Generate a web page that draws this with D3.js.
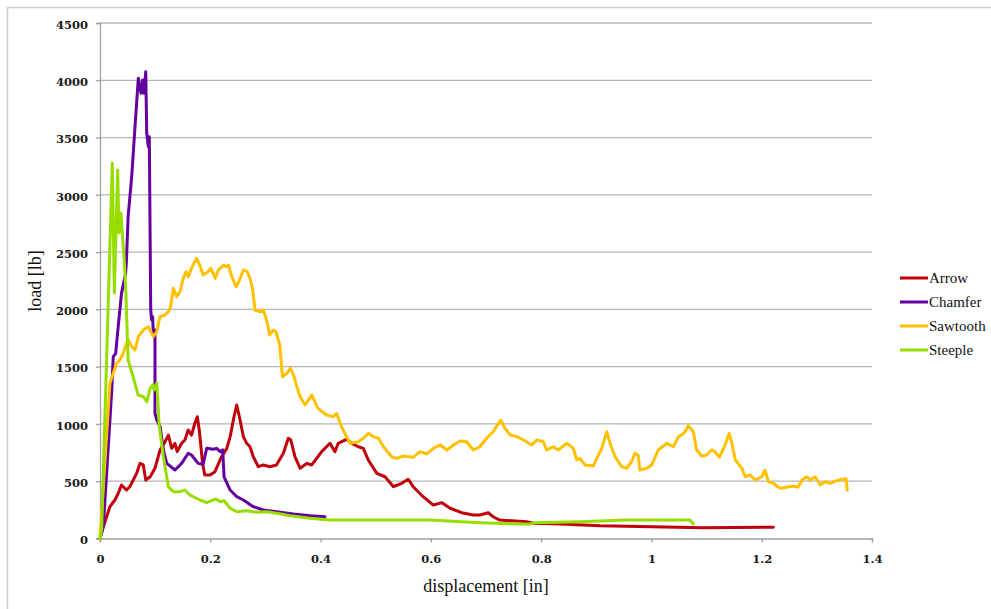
<!DOCTYPE html>
<html>
<head>
<meta charset="utf-8">
<script src="https://cdn.jsdelivr.net/npm/d3@7"></script>
<style>
  body { margin: 0; background: #fff; }
  svg { display: block; }
</style>
</head>
<body>
<script>
// load–displacement curves
const seriesNames = ["Arrow", "Chamfer", "Sawtooth", "Steeple"];
const seriesColors = ["#c0000b", "#6400a0", "#ffc000", "#97de00"];

const arrow = [[0,0],[0.006,103],[0.012,190],[0.018,278],[0.027,336],[0.033,394],[0.039,467],[0.048,423],[0.054,452],[0.0665,569],[0.0725,656],[0.0785,642],[0.083,511],[0.091,539],[0.0997,613],[0.109,773],[0.118,845],[0.124,903],[0.130,787],[0.136,831],[0.140,758],[0.148,831],[0.154,860],[0.160,947],[0.166,903],[0.172,1006],[0.1765,1063],[0.180,947],[0.186,656],[0.190,554],[0.1995,554],[0.2085,583],[0.2205,714],[0.230,787],[0.236,889],[0.243,1063],[0.248,1165],[0.254,1034],[0.260,889],[0.266,831],[0.272,801],[0.278,714],[0.287,627],[0.296,642],[0.308,627],[0.320,642],[0.3325,744],[0.3415,875],[0.346,860],[0.3535,714],[0.363,613],[0.375,656],[0.384,642],[0.402,758],[0.417,831],[0.426,758],[0.432,831],[0.447,866],[0.4565,831],[0.4685,801],[0.4775,787],[0.4865,685],[0.502,569],[0.517,539],[0.532,452],[0.547,482],[0.559,517],[0.568,452],[0.586,365],[0.6045,292],[0.620,313],[0.635,264],[0.656,225],[0.677,205],[0.689,205],[0.704,225],[0.713,190],[0.725,161],[0.774,147],[0.786,133],[0.834,127],[0.907,112],[1.094,94],[1.221,98]];

const chamfer = [[0,0],[0.006,103],[0.021,1267],[0.024,1587],[0.0285,1617],[0.033,1849],[0.039,2140],[0.0465,2315],[0.048,2431],[0.051,2809],[0.0575,3158],[0.0635,3595],[0.0695,4017],[0.0744,3886],[0.0774,4002],[0.0798,3886],[0.083,4075],[0.0847,3537],[0.0876,3420],[0.0894,3507],[0.092,1994],[0.0937,1907],[0.0955,1936],[0.0965,1794],[0.0997,1820],[0.0997,1093],[0.103,1034],[0.109,976],[0.115,773],[0.121,656],[0.136,598],[0.148,656],[0.160,744],[0.166,729],[0.178,656],[0.187,648],[0.1935,787],[0.2055,779],[0.2115,787],[0.218,758],[0.2225,773],[0.225,539],[0.236,423],[0.248,365],[0.260,336],[0.278,278],[0.296,249],[0.320,234],[0.351,214],[0.381,199],[0.408,190]];

const sawtooth = [[0,0],[0.018,1355],[0.024,1442],[0.030,1529],[0.036,1558],[0.042,1617],[0.048,1704],[0.051,1733],[0.0575,1674],[0.0635,1645],[0.0695,1762],[0.0785,1820],[0.0876,1849],[0.0967,1762],[0.1028,1805],[0.1088,1936],[0.118,1951],[0.124,1980],[0.128,2023],[0.133,2184],[0.139,2111],[0.145,2154],[0.151,2271],[0.156,2329],[0.160,2285],[0.166,2359],[0.175,2446],[0.181,2387],[0.187,2300],[0.196,2329],[0.201,2359],[0.209,2271],[0.2145,2344],[0.224,2387],[0.2285,2373],[0.233,2387],[0.239,2285],[0.247,2198],[0.253,2256],[0.260,2344],[0.267,2329],[0.272,2271],[0.277,2169],[0.281,1995],[0.290,1980],[0.296,1995],[0.302,1907],[0.308,1776],[0.314,1820],[0.319,1805],[0.326,1689],[0.331,1412],[0.339,1442],[0.345,1486],[0.351,1427],[0.357,1325],[0.363,1238],[0.372,1165],[0.384,1253],[0.395,1136],[0.411,1078],[0.423,1063],[0.429,1093],[0.438,976],[0.447,889],[0.4534,831],[0.468,845],[0.4775,875],[0.487,918],[0.496,889],[0.505,875],[0.514,801],[0.529,714],[0.538,700],[0.550,720],[0.568,709],[0.580,758],[0.5925,738],[0.6045,787],[0.617,816],[0.629,773],[0.641,816],[0.653,851],[0.665,845],[0.677,773],[0.689,801],[0.701,875],[0.713,932],[0.719,976],[0.727,1034],[0.7345,962],[0.744,903],[0.756,889],[0.768,860],[0.783,816],[0.792,860],[0.804,845],[0.810,773],[0.822,801],[0.831,773],[0.8464,831],[0.8584,787],[0.8645,685],[0.8705,700],[0.8796,642],[0.8946,633],[0.9037,729],[0.910,787],[0.919,932],[0.925,831],[0.934,714],[0.946,627],[0.955,613],[0.964,670],[0.970,744],[0.976,729],[0.979,598],[0.9915,613],[1.0005,642],[1.0125,773],[1.028,831],[1.040,801],[1.049,889],[1.059,918],[1.067,985],[1.076,932],[1.082,773],[1.091,720],[1.100,729],[1.109,773],[1.115,758],[1.123,709],[1.1335,816],[1.141,918],[1.146,831],[1.152,685],[1.164,613],[1.170,539],[1.179,554],[1.188,511],[1.200,539],[1.206,598],[1.212,496],[1.221,482],[1.233,438],[1.245,447],[1.257,458],[1.266,447],[1.273,511],[1.282,539],[1.288,511],[1.297,539],[1.306,467],[1.315,496],[1.324,482],[1.336,505],[1.345,517],[1.353,522],[1.355,423]];

const steeple = [[0,0],[0.003,75],[0.0223,3275],[0.026,2143],[0.032,3217],[0.0345,2667],[0.038,2841],[0.040,2693],[0.044,2431],[0.047,2143],[0.049,1849],[0.051,1558],[0.060,1412],[0.069,1253],[0.0785,1238],[0.085,1194],[0.091,1313],[0.0955,1340],[0.098,1296],[0.103,1357],[0.1075,976],[0.115,714],[0.124,452],[0.133,409],[0.145,409],[0.154,423],[0.163,380],[0.181,336],[0.1935,313],[0.210,345],[0.218,321],[0.225,330],[0.236,264],[0.248,234],[0.266,243],[0.284,229],[0.302,234],[0.320,220],[0.345,199],[0.381,176],[0.417,161],[0.508,161],[0.598,161],[0.689,138],[0.780,124],[0.785,138],[0.870,147],[0.955,161],[1.070,161],[1.076,127]];

const xTicks = [0, 0.2, 0.4, 0.6, 0.8, 1, 1.2, 1.4];
const yTicks = [0, 500, 1000, 1500, 2000, 2500, 3000, 3500, 4000, 4500];

const width = 991, height = 609;
const svg = d3.select("body").append("svg")
    .attr("width", width)
    .attr("height", height);

// frame
svg.append("path")
    .attr("d", "M7.5,612 V7.5 H995")
    .attr("fill", "none")
    .attr("stroke", "#cfcfcf")
    .attr("stroke-width", 1.5);

const x = d3.scaleLinear().domain([0, 1.4]).range([100, 872]);
const y = d3.scaleLinear().domain([0, 4500]).range([538.5, 23]);

// gridlines
svg.append("g")
    .selectAll("line")
    .data(yTicks.slice(1))
    .join("line")
    .attr("x1", x(0)).attr("x2", x(1.4))
    .attr("y1", d => y(d)).attr("y2", d => y(d))
    .attr("stroke", "#b5b5b5")
    .attr("stroke-width", 1.3);

// axes
const yAxis = svg.append("g")
    .attr("transform", `translate(${x(0)},0)`)
    .call(d3.axisLeft(y).tickValues(yTicks).tickSize(4).tickPadding(8).tickFormat(d3.format("d")));
const xAxis = svg.append("g")
    .attr("transform", `translate(0,${y(0)})`)
    .call(d3.axisBottom(x).tickValues(xTicks).tickSize(4).tickPadding(12).tickFormat(d => String(d)));

[yAxis, xAxis].forEach(a => {
    a.select(".domain").attr("stroke", "#a0a0a0").attr("stroke-width", 1.3);
    a.selectAll(".tick line").attr("stroke", "#a0a0a0").attr("stroke-width", 1.3);
    a.selectAll(".tick text")
        .attr("fill", "#1a1a1a")
        .style("font-family", "'DejaVu Serif', serif")
        .style("font-size", "11.5px")
        .style("font-weight", "bold");
});
yAxis.selectAll(".tick text").attr("dy", "0.45em");

// series
const lineGen = d3.line()
    .x(d => x(d[0]))
    .y(d => y(d[1]));

const allSeries = [arrow, chamfer, sawtooth, steeple];
svg.append("g")
    .selectAll("path")
    .data(allSeries)
    .join("path")
    .attr("d", lineGen)
    .attr("fill", "none")
    .attr("stroke", (d, i) => seriesColors[i])
    .attr("stroke-width", 3)
    .attr("stroke-linejoin", "round")
    .attr("stroke-linecap", "round");

// axis titles
svg.append("text")
    .attr("x", 486).attr("y", 592)
    .attr("text-anchor", "middle")
    .style("font-family", "'Liberation Serif', serif")
    .style("font-size", "18px")
    .attr("fill", "#111")
    .text("displacement [in]");

svg.append("text")
    .attr("transform", "translate(41,281) rotate(-90)")
    .attr("text-anchor", "middle")
    .style("font-family", "'Liberation Serif', serif")
    .style("font-size", "18px")
    .attr("fill", "#111")
    .text("load [lb]");

// legend
const legend = svg.append("g")
    .selectAll("g")
    .data(seriesNames)
    .join("g")
    .attr("transform", (d, i) => `translate(900,${278 + i * 24})`);
legend.append("line")
    .attr("x1", 0).attr("x2", 28)
    .attr("stroke", (d, i) => seriesColors[i])
    .attr("stroke-width", 3);
legend.append("text")
    .attr("x", 29).attr("dy", "0.35em")
    .style("font-family", "'Liberation Serif', serif")
    .style("font-size", "15px")
    .attr("fill", "#111")
    .text(d => d);
</script>
</body>
</html>
